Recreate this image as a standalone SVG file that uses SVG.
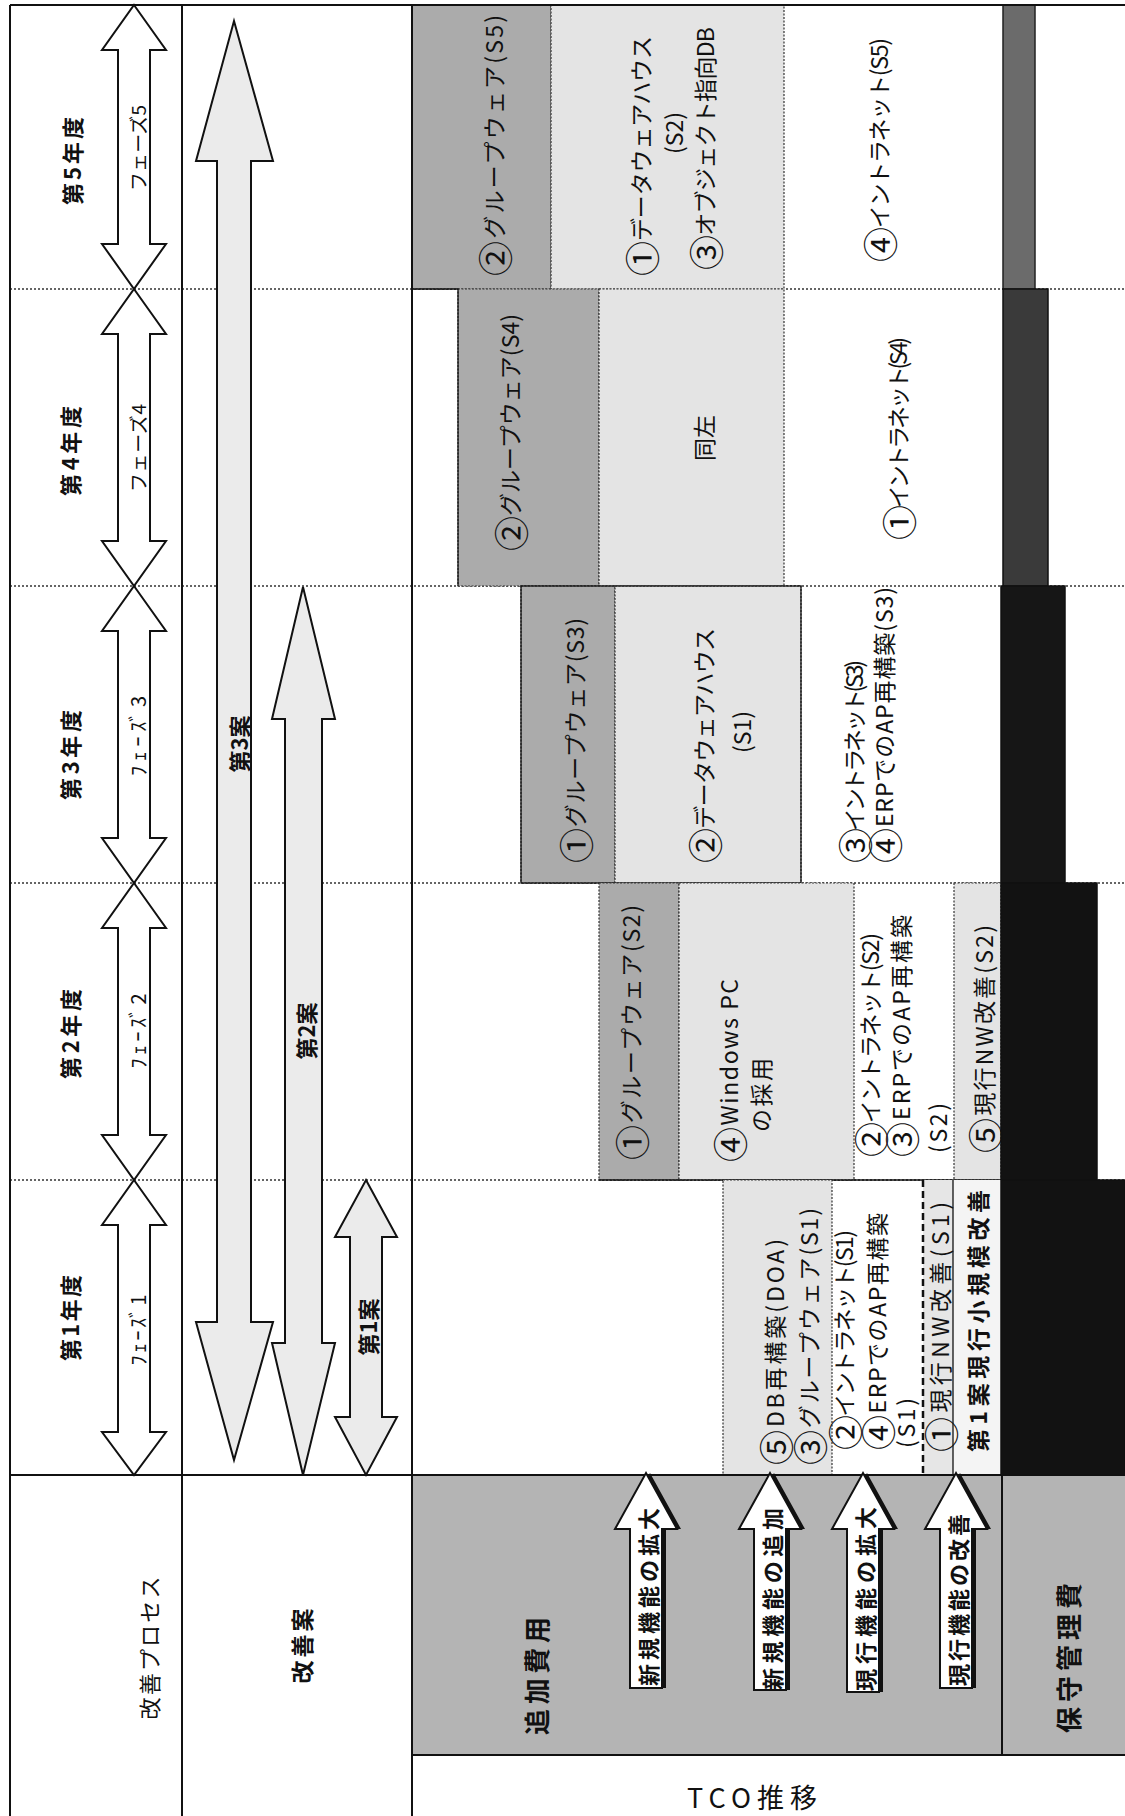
<svg xmlns="http://www.w3.org/2000/svg" width="1125" height="1816" viewBox="0 0 1125 1816">
<style>
text{font-family:"Noto Sans CJK JP","Noto Sans",sans-serif;fill:#111}
.v{dominant-baseline:central}
.m{text-anchor:middle}
.s23{font-size:23px}
.b{font-weight:bold}
.c{font-size:35px}
.ln{stroke:#111;stroke-width:2;fill:none}
.thin{stroke:#111;stroke-width:1.3;fill:none}
.dot{stroke:#333;stroke-width:1.3;stroke-dasharray:2 2;fill:none}
.dash{stroke:#111;stroke-width:2.5;stroke-dasharray:7 4;fill:none}
.gray{fill:#ababab;stroke:#333;stroke-width:1.2;stroke-dasharray:2 1.5}
.light{fill:#e4e4e4;stroke:#333;stroke-width:1.2;stroke-dasharray:2 1.5}
.arrW{fill:#fff;stroke:#111;stroke-width:2}
.arrL{fill:#ebebeb;stroke:#111;stroke-width:2}
.shadow{fill:#111}
</style>
<rect x="0" y="0" width="1125" height="1816" fill="#fff"/>

<g id="header-area">
  <rect x="412" y="1475" width="713" height="280" fill="#b4b4b4"/>
</g>

<g id="grid">
  <path class="dot" d="M10,289H1125M10,586H1125M10,883H1125M10,1180H1125"/>
</g>

<g id="year5-cells">
  <rect class="gray" x="412" y="5" width="139" height="284"/>
  <rect class="light" x="551" y="5" width="233" height="284"/>
  <rect x="1003" y="5" width="32" height="284" fill="#6b6b6b" stroke="#222" stroke-width="1.5"/>
  <text class="v s23" textLength="261" lengthAdjust="spacing" transform="translate(493,276) rotate(-90)"><tspan class="c">②</tspan>グループウェア(S5)</text>
  <text class="v s23" textLength="240" lengthAdjust="spacing" transform="translate(640,276) rotate(-90)"><tspan class="c">①</tspan>データウェアハウス</text>
  <text class="v s23 m" transform="translate(673,133) rotate(-90)">(S2)</text>
  <text class="v s23" textLength="243" lengthAdjust="spacing" transform="translate(704,270) rotate(-90)"><tspan class="c">③</tspan>オブジェクト指向DB</text>
  <text class="v s23" textLength="224" lengthAdjust="spacing" transform="translate(878,262) rotate(-90)"><tspan class="c">④</tspan>イントラネット(S5)</text>
</g>

<g id="year4-cells">
  <rect class="gray" x="458" y="289" width="141" height="297"/>
  <rect class="light" x="599" y="289" width="185" height="297"/>
  <path class="thin" d="M412,289H458V586"/>
  <rect x="1003" y="289" width="45" height="297" fill="#3a3a3a" stroke="#111" stroke-width="1.5"/>
  <text class="v s23" textLength="237" lengthAdjust="spacing" transform="translate(509,551) rotate(-90)"><tspan class="c">②</tspan>グループウェア(S4)</text>
  <text class="v s23 m" transform="translate(703,438) rotate(-90)">同左</text>
  <text class="v s23" textLength="203" lengthAdjust="spacing" transform="translate(897,540) rotate(-90)"><tspan class="c">①</tspan>イントラネット(S4)</text>
</g>

<g id="year3-cells">
  <rect class="gray" x="521" y="586" width="94" height="297"/>
  <rect class="light" x="615" y="586" width="186" height="297"/>
  <rect class="thin" x="521" y="586" width="280" height="297"/>
  <rect x="1001" y="586" width="64" height="297" fill="#161616" stroke="#111" stroke-width="1.5"/>
  <text class="v s23" textLength="245" lengthAdjust="spacing" transform="translate(574,863) rotate(-90)"><tspan class="c">①</tspan>グループウェア(S3)</text>
  <text class="v s23" textLength="235" lengthAdjust="spacing" transform="translate(703,863) rotate(-90)"><tspan class="c">②</tspan>データウェアハウス</text>
  <text class="v s23 m" transform="translate(741,732) rotate(-90)">(S1)</text>
  <text class="v s23" textLength="203" lengthAdjust="spacing" transform="translate(853,863) rotate(-90)"><tspan class="c">③</tspan>イントラネット(S3)</text>
  <text class="v s23" textLength="276" lengthAdjust="spacing" transform="translate(883,863) rotate(-90)"><tspan class="c">④</tspan>ERPでのAP再構築(S3)</text>
</g>

<g id="year2-cells">
  <rect class="gray" x="599" y="883" width="80" height="297"/>
  <rect class="light" x="679" y="883" width="175" height="297"/>
  <rect class="light" x="954" y="883" width="47" height="297"/>
  <path class="thin" d="M599,1180H1001"/>
  <rect x="1001" y="883" width="96" height="297" fill="#121212" stroke="#111" stroke-width="1.5"/>
  <text class="v s23" textLength="255" lengthAdjust="spacing" transform="translate(630,1160) rotate(-90)"><tspan class="c">①</tspan>グループウェア(S2)</text>
  <text class="v s23" textLength="183" lengthAdjust="spacing" transform="translate(728,1162) rotate(-90)"><tspan class="c">④</tspan>Windows PC</text>
  <text class="v s23" textLength="74" lengthAdjust="spacing" transform="translate(760,1132) rotate(-90)">の採用</text>
  <text class="v s23" textLength="224" lengthAdjust="spacing" transform="translate(869,1157) rotate(-90)"><tspan class="c">②</tspan>イントラネット(S2)</text>
  <text class="v s23" textLength="242" lengthAdjust="spacing" transform="translate(900,1157) rotate(-90)"><tspan class="c">③</tspan>ERPでのAP再構築</text>
  <text class="v s23" textLength="50" lengthAdjust="spacing" transform="translate(937,1153) rotate(-90)">(S2)</text>
  <text class="v s23" textLength="228" lengthAdjust="spacing" transform="translate(983,1153) rotate(-90)"><tspan class="c">⑤</tspan>現行NW改善(S2)</text>
</g>

<g id="year1-cells">
  <rect class="light" x="723" y="1180" width="109" height="295"/>
  <rect x="923" y="1180" width="30" height="295" fill="#e6e6e6"/>
  <rect x="953" y="1180" width="48" height="295" fill="#f4f4f4"/>
  <path class="dash" d="M923,1180V1475"/>
  <path class="thin" d="M953,1180V1475"/>
  <rect x="1001" y="1180" width="124" height="295" fill="#121212" stroke="#111" stroke-width="1.5"/>
  <text class="v s23" textLength="226" lengthAdjust="spacing" transform="translate(774,1465) rotate(-90)"><tspan class="c">⑤</tspan>DB再構築(DOA)</text>
  <text class="v s23" textLength="257" lengthAdjust="spacing" transform="translate(808,1465) rotate(-90)"><tspan class="c">③</tspan>グループウェア(S1)</text>
  <text class="v s23" textLength="220" lengthAdjust="spacing" transform="translate(843,1450) rotate(-90)"><tspan class="c">②</tspan>イントラネット(S1)</text>
  <text class="v s23" textLength="237" lengthAdjust="spacing" transform="translate(876,1450) rotate(-90)"><tspan class="c">④</tspan>ERPでのAP再構築</text>
  <text class="v s23" textLength="50" lengthAdjust="spacing" transform="translate(905,1448) rotate(-90)">(S1)</text>
  <text class="v s23" textLength="250" lengthAdjust="spacing" transform="translate(939,1452) rotate(-90)"><tspan class="c">①</tspan>現行NW改善(S1)</text>
  <text class="v s23 b" textLength="262" lengthAdjust="spacing" transform="translate(977,1452) rotate(-90)">第1案現行小規模改善</text>
</g>

<g id="grid-main">
  <path class="ln" d="M10,5H1125M10,5V1816M182,5V1816M412,5V1816M10,1475H1125M1002,1475V1755M412,1755H1125"/>
</g>

<g id="phase-arrows">
  <polygon class="arrW" points="134,5 166,50 150,50 150,244 166,244 134,289 102,244 118,244 118,50 102,50"/>
  <polygon class="arrW" points="134,289 166,334 150,334 150,541 166,541 134,586 102,541 118,541 118,334 102,334"/>
  <polygon class="arrW" points="134,586 166,631 150,631 150,838 166,838 134,883 102,838 118,838 118,631 102,631"/>
  <polygon class="arrW" points="134,883 166,928 150,928 150,1135 166,1135 134,1180 102,1135 118,1135 118,928 102,928"/>
  <polygon class="arrW" points="134,1180 166,1225 150,1225 150,1432 166,1432 134,1475 102,1432 118,1432 118,1225 102,1225"/>
  <text class="v m" font-size="19" textLength="86" lengthAdjust="spacing" transform="translate(137,148) rotate(-90)">フェーズ5</text>
  <text class="v m" font-size="19" textLength="88" lengthAdjust="spacing" transform="translate(137,448) rotate(-90)">フェーズ4</text>
  <text class="v m" font-size="20" textLength="80" lengthAdjust="spacing" transform="translate(137,736) rotate(-90)">ﾌｪｰｽﾞ3</text>
  <text class="v m" font-size="20" textLength="75" lengthAdjust="spacing" transform="translate(137,1031) rotate(-90)">ﾌｪｰｽﾞ2</text>
  <text class="v m" font-size="20" textLength="71" lengthAdjust="spacing" transform="translate(137,1330) rotate(-90)">ﾌｪｰｽﾞ1</text>
</g>

<g id="year-labels">
  <text class="v m b" font-size="22" textLength="88" lengthAdjust="spacing" transform="translate(71,161) rotate(-90)">第5年度</text>
  <text class="v m b" font-size="22" textLength="90" lengthAdjust="spacing" transform="translate(69,451) rotate(-90)">第4年度</text>
  <text class="v m b" font-size="22" textLength="90" lengthAdjust="spacing" transform="translate(69,755) rotate(-90)">第3年度</text>
  <text class="v m b" font-size="22" textLength="90" lengthAdjust="spacing" transform="translate(69,1034) rotate(-90)">第2年度</text>
  <text class="v m b" font-size="22" textLength="86" lengthAdjust="spacing" transform="translate(69,1318) rotate(-90)">第1年度</text>
</g>

<g id="plan-arrows">
  <polygon class="arrL" points="234,21 273,161 251,161 251,1322 273,1322 234,1460 196,1322 217,1322 217,161 196,161"/>
  <polygon class="arrL" points="303,587 335,719 322,719 322,1343 335,1343 303,1475 272,1343 285,1343 285,719 272,719"/>
  <polygon class="arrL" points="366,1180 397,1237 382,1237 382,1417 397,1417 366,1475 335,1417 350,1417 350,1237 335,1237"/>
  <text class="v m b" font-size="22" transform="translate(238,744) rotate(-90)">第3案</text>
  <text class="v m b" font-size="22" transform="translate(305,1031) rotate(-90)">第2案</text>
  <text class="v m b" font-size="22" transform="translate(367,1327) rotate(-90)">第1案</text>
</g>

<g id="header-labels">
  <text class="v m" font-size="22" textLength="143" lengthAdjust="spacing" transform="translate(148,1648) rotate(-90)">改善プロセス</text>
  <text class="v m b" font-size="23" textLength="75" lengthAdjust="spacing" transform="translate(301,1646) rotate(-90)">改善案</text>
  <text class="v m b" font-size="26" textLength="118" lengthAdjust="spacing" transform="translate(535,1676) rotate(-90)">追加費用</text>
  <text class="v m b" font-size="26" textLength="150" lengthAdjust="spacing" transform="translate(1067,1658) rotate(-90)">保守管理費</text>
  <text class="m" x="752" y="1808" font-size="27" textLength="130" lengthAdjust="spacing">TCO推移</text>
</g>

<g id="cost-arrows">
  <polygon class="shadow" transform="translate(4,0)" points="646,1473 677,1529 662,1529 662,1688 630,1688 630,1529 615,1529"/>
  <polygon class="arrW" points="646,1473 677,1529 662,1529 662,1688 630,1688 630,1529 615,1529"/>
  <polygon class="shadow" transform="translate(4,0)" points="770,1473 801,1529 786,1529 786,1690 754,1690 754,1529 739,1529"/>
  <polygon class="arrW" points="770,1473 801,1529 786,1529 786,1690 754,1690 754,1529 739,1529"/>
  <polygon class="shadow" transform="translate(4,0)" points="863,1473 894,1529 879,1529 879,1692 847,1692 847,1529 832,1529"/>
  <polygon class="arrW" points="863,1473 894,1529 879,1529 879,1692 847,1692 847,1529 832,1529"/>
  <polygon class="shadow" transform="translate(4,0)" points="956,1473 987,1529 972,1529 972,1688 940,1688 940,1529 925,1529"/>
  <polygon class="arrW" points="956,1473 987,1529 972,1529 972,1688 940,1688 940,1529 925,1529"/>
  <text class="v b" font-size="22" textLength="178" lengthAdjust="spacing" transform="translate(647,1686) rotate(-90)">新規機能の拡大</text>
  <text class="v b" font-size="22" textLength="182" lengthAdjust="spacing" transform="translate(771,1690) rotate(-90)">新規機能の追加</text>
  <text class="v b" font-size="22" textLength="184" lengthAdjust="spacing" transform="translate(864,1691) rotate(-90)">現行機能の拡大</text>
  <text class="v b" font-size="22" textLength="172" lengthAdjust="spacing" transform="translate(957,1686) rotate(-90)">現行機能の改善</text>
</g>
</svg>
